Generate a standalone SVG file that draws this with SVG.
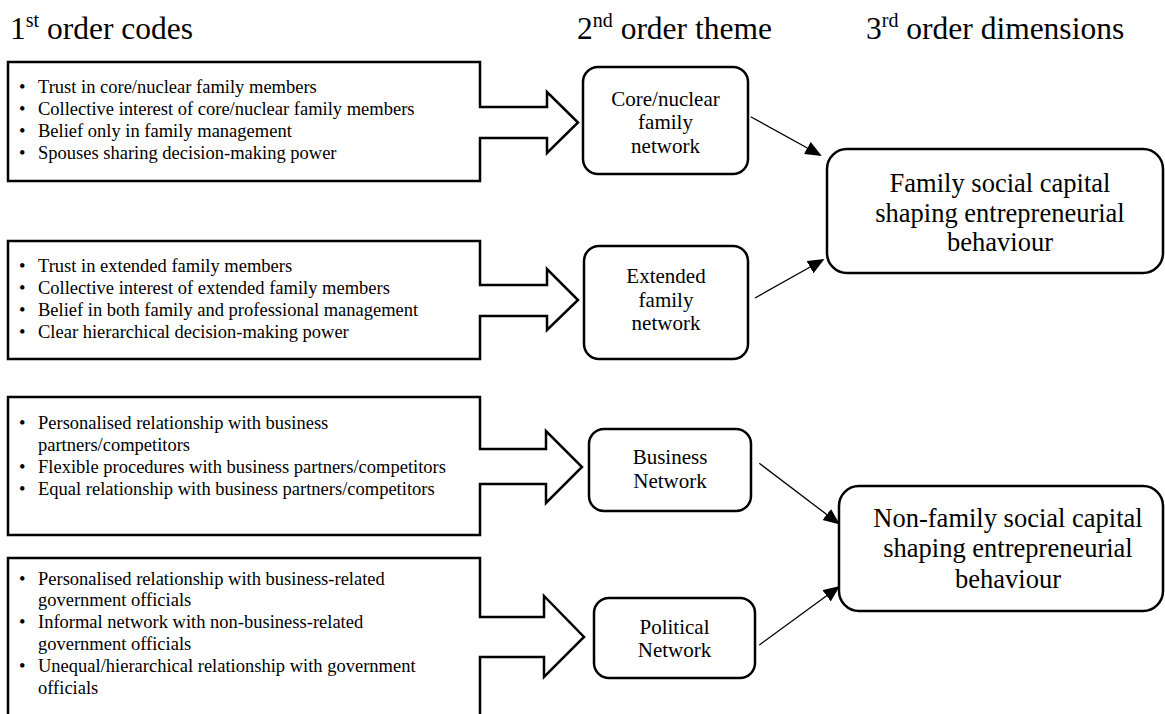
<svg xmlns="http://www.w3.org/2000/svg" width="1165" height="714" viewBox="0 0 1165 714">
  <style>
    text { font-family: "Liberation Serif", "Times New Roman", serif; fill: #000; }
    .head { font-size: 31.5px; }
    .sup { font-size: 20px; }
    .code { font-size: 18.5px; }
    .theme { font-size: 21px; text-anchor: middle; }
    .dim { font-size: 26.5px; text-anchor: middle; }
    .outline { fill: #fff; stroke: #000; stroke-width: 2.5; stroke-linejoin: miter; }
    .node { fill: #fff; stroke: #000; stroke-width: 2.5; }
    .link { fill: none; stroke: #000; stroke-width: 1.3; marker-end: url(#tri); }
  </style>
  <defs>
    <marker id="tri" markerUnits="userSpaceOnUse" markerWidth="17" markerHeight="15" refX="14.5" refY="7" orient="auto">
      <path d="M0,0 L16.5,7 L0,14 Z" fill="#000"/>
    </marker>
  </defs>

  <rect width="1165" height="714" fill="#fff"/>

  <!-- column headings -->
  <g id="headings">
    <text class="head" x="10" y="39">1<tspan class="sup" dy="-12">st</tspan><tspan dy="12"> order codes</tspan></text>
    <text class="head" x="577" y="39">2<tspan class="sup" dy="-12">nd</tspan><tspan dy="12"> order theme</tspan></text>
    <text class="head" x="866" y="39">3<tspan class="sup" dy="-12">rd</tspan><tspan dy="12"> order dimensions</tspan></text>
  </g>

  <!-- first order code boxes, each with its block arrow -->
  <g id="codes-core">
    <path class="outline" d="M8,62 H480 V107 H547 V92 L578,122.5 L547,153 V138 H480 V181 H8 Z"/>
    <text class="code" x="19" y="92.5">•</text><text class="code" x="38" y="92.5">Trust in core/nuclear family members</text>
    <text class="code" x="19" y="114.8">•</text><text class="code" x="38" y="114.8">Collective interest of core/nuclear family members</text>
    <text class="code" x="19" y="137.1">•</text><text class="code" x="38" y="137.1">Belief only in family management</text>
    <text class="code" x="19" y="159.4">•</text><text class="code" x="38" y="159.4">Spouses sharing decision-making power</text>
  </g>

  <g id="codes-extended">
    <path class="outline" d="M8,241 H480 V285 H547 V269 L578,300 L547,330 V316 H480 V359 H8 Z"/>
    <text class="code" x="19" y="271.5">•</text><text class="code" x="38" y="271.5">Trust in extended family members</text>
    <text class="code" x="19" y="293.8">•</text><text class="code" x="38" y="293.8">Collective interest of extended family members</text>
    <text class="code" x="19" y="316.1">•</text><text class="code" x="38" y="316.1">Belief in both family and professional management</text>
    <text class="code" x="19" y="338.4">•</text><text class="code" x="38" y="338.4">Clear hierarchical decision-making power</text>
  </g>

  <g id="codes-business">
    <path class="outline" d="M8,397 H480 V449 H546 V431 L582,467 L546,503 V484 H480 V535 H8 Z"/>
    <text class="code" x="19" y="428.5">•</text><text class="code" x="38" y="428.5">Personalised relationship with business</text>
    <text class="code" x="38" y="450.8">partners/competitors</text>
    <text class="code" x="19" y="473.1">•</text><text class="code" x="38" y="473.1">Flexible procedures with business partners/competitors</text>
    <text class="code" x="19" y="495.4">•</text><text class="code" x="38" y="495.4">Equal relationship with business partners/competitors</text>
  </g>

  <g id="codes-political">
    <path class="outline" d="M8,558 H480 V617 H544 V596 L584,637 L544,677 V657 H480 V722 H8 Z"/>
    <text class="code" x="19" y="584.5">•</text><text class="code" x="38" y="584.5">Personalised relationship with business-related</text>
    <text class="code" x="38" y="606.3">government officials</text>
    <text class="code" x="19" y="628.1">•</text><text class="code" x="38" y="628.1">Informal network with non-business-related</text>
    <text class="code" x="38" y="649.9">government officials</text>
    <text class="code" x="19" y="671.7">•</text><text class="code" x="38" y="671.7">Unequal/hierarchical relationship with government</text>
    <text class="code" x="38" y="693.5">officials</text>
  </g>

  <!-- second order themes -->
  <g id="theme-core">
    <rect class="node" x="583" y="67" width="165" height="107" rx="15"/>
    <text class="theme" x="665.5" y="105.5">Core/nuclear</text>
    <text class="theme" x="665.5" y="129">family</text>
    <text class="theme" x="665.5" y="152.5">network</text>
  </g>

  <g id="theme-extended">
    <rect class="node" x="584" y="246" width="164" height="113" rx="15"/>
    <text class="theme" x="666" y="283">Extended</text>
    <text class="theme" x="666" y="306.5">family</text>
    <text class="theme" x="666" y="330">network</text>
  </g>

  <g id="theme-business">
    <rect class="node" x="589" y="429" width="162" height="82" rx="15"/>
    <text class="theme" x="670" y="463.5">Business</text>
    <text class="theme" x="670" y="488">Network</text>
  </g>

  <g id="theme-political">
    <rect class="node" x="594" y="598" width="161" height="80" rx="15"/>
    <text class="theme" x="674.5" y="633.5">Political</text>
    <text class="theme" x="674.5" y="657">Network</text>
  </g>

  <!-- third order dimensions -->
  <g id="dim-family">
    <rect class="node" x="827" y="149" width="336" height="124" rx="20"/>
    <text class="dim" x="1000" y="191.5">Family social capital</text>
    <text class="dim" x="1000" y="221.5">shaping entrepreneurial</text>
    <text class="dim" x="1000" y="251">behaviour</text>
  </g>

  <g id="dim-nonfamily">
    <rect class="node" x="839" y="486" width="324" height="125" rx="20"/>
    <text class="dim" x="1008" y="527">Non-family social capital</text>
    <text class="dim" x="1008" y="557">shaping entrepreneurial</text>
    <text class="dim" x="1008" y="587.5">behaviour</text>
  </g>

  <!-- theme to dimension links -->
  <g id="connectors">
    <line class="link" x1="750.7" y1="116.7" x2="820" y2="155"/>
    <line class="link" x1="755" y1="298" x2="822.7" y2="260"/>
    <line class="link" x1="759.3" y1="463.3" x2="838.3" y2="523.3"/>
    <line class="link" x1="759.3" y1="645" x2="838.3" y2="587.3"/>
  </g>
</svg>
